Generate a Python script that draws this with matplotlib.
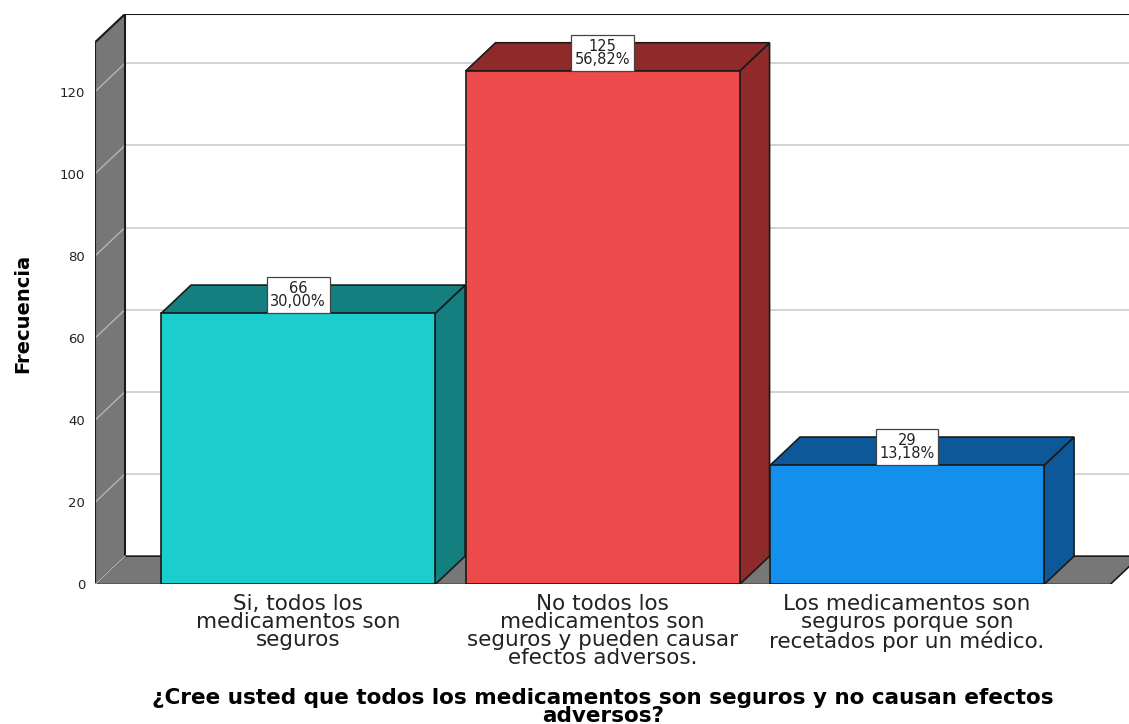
import numpy as np
import matplotlib
matplotlib.use("Agg")
import matplotlib.pyplot as plt
from matplotlib.patches import Polygon

# data
CATEGORIES = [
    "Si, todos los\nmedicamentos son\nseguros",
    "No todos los\nmedicamentos son\nseguros y pueden causar\nefectos adversos.",
    "Los medicamentos son\nseguros porque son\nrecetados por un médico.",
]
COUNTS = [66, 125, 29]
PERCENTS = ["30,00%", "56,82%", "13,18%"]
YTICKS = [0, 20, 40, 60, 80, 100, 120]
XLABEL = "¿Cree usted que todos los medicamentos son seguros y no causan efectos\nadversos?"
YLABEL = "Frecuencia"

FRONT = ["#1ccdcd", "#ec4a4b", "#1290ec"]
SHADE = ["#137f7f", "#8f2a2b", "#0d5898"]
WALL = "#777777"
GRID = "#cccccc"
EDGE = "#1a1a1a"

# pseudo-3D geometry (category units / value units)
BAR_W = 0.9
DX, DY = 0.0985, 6.9
PAD = 0.217
Y_TOP = 132

fig = plt.figure(figsize=(11.29, 7.24), dpi=100)
ax = fig.add_axes([0.08415, 0.19268, 0.91585, 0.78798])

x = np.arange(len(COUNTS))
x0 = x[0] - BAR_W / 2 - PAD
x1 = x[-1] + BAR_W / 2 + PAD
ax.set_xlim(x0, 2.729)
ax.set_ylim(0, Y_TOP + DY)

# back wall top edge
ax.plot([x0 + DX, 3.5], [Y_TOP + DY, Y_TOP + DY], color=EDGE, lw=1.5, zorder=2)

# grid on back wall and side wall
for t in YTICKS[1:]:
    ax.plot([x0 + DX, 3.5], [t + DY, t + DY], color=GRID, lw=1.2, zorder=1)

# left side wall
ax.add_patch(Polygon([(x0, 0), (x0, Y_TOP), (x0 + DX, Y_TOP + DY), (x0 + DX, DY)],
                     closed=True, facecolor=WALL, edgecolor="none", zorder=2))
for t in YTICKS[1:]:
    ax.plot([x0, x0 + DX], [t, t + DY], color="#b5b5b5", lw=1.0, zorder=2.5)
ax.plot([x0, x0, x0 + DX, x0 + DX], [0, Y_TOP, Y_TOP + DY, DY], color=EDGE, lw=1.5, zorder=3)

# floor
ax.add_patch(Polygon([(x0, 0), (x1, 0), (x1 + DX, DY), (x0 + DX, DY)],
                     closed=True, facecolor=WALL, edgecolor=EDGE, lw=1.2, zorder=2))
ax.plot([x0, x0 + DX], [0, DY], color="#b5b5b5", lw=1.0, zorder=3)

# bars
for i, (xc, v) in enumerate(zip(x, COUNTS)):
    l, r = xc - BAR_W / 2, xc + BAR_W / 2
    z = 4 + i
    ax.add_patch(Polygon([(r, 0), (r, v), (r + DX, v + DY), (r + DX, DY)], closed=True,
                         facecolor=SHADE[i], edgecolor=EDGE, lw=1.2, zorder=z))
    ax.add_patch(Polygon([(l, v), (r, v), (r + DX, v + DY), (l + DX, v + DY)], closed=True,
                         facecolor=SHADE[i], edgecolor=EDGE, lw=1.2, zorder=z))
    ax.add_patch(Polygon([(l, 0), (r, 0), (r, v), (l, v)], closed=True,
                         facecolor=FRONT[i], edgecolor=EDGE, lw=1.2, zorder=z))
    ax.annotate(f"{v}\n{PERCENTS[i]}", (xc, v), xytext=(0, 3), textcoords="offset points",
                ha="center", va="bottom", fontsize=10.5, linespacing=0.85,
                family="DejaVu Sans", color="#222222", zorder=10,
                bbox=dict(boxstyle="square,pad=0.25", facecolor="white",
                          edgecolor="#444444", lw=0.9))

ax.set_xticks(x)
ax.set_xticklabels(CATEGORIES, fontsize=15.5, linespacing=0.88, color="#222222",
                   family="DejaVu Sans")
ax.set_yticks(YTICKS)
ax.set_yticklabels([str(t) for t in YTICKS], fontsize=9.5, color="#222222")
ax.tick_params(axis="both", length=0)
ax.tick_params(axis="x", pad=7)
ax.tick_params(axis="y", pad=7)
for s in ax.spines.values():
    s.set_visible(False)

ax.set_ylabel(YLABEL, fontsize=14, fontweight="bold", family="DejaVu Sans")
ax.yaxis.set_label_coords(-0.061, 0.476)
ax.set_xlabel(XLABEL, fontsize=15.5, fontweight="bold", linespacing=0.88,
              family="DejaVu Sans")
ax.xaxis.set_label_coords(0.491, -0.181)

fig.savefig("out.png", dpi=100, facecolor="white")
